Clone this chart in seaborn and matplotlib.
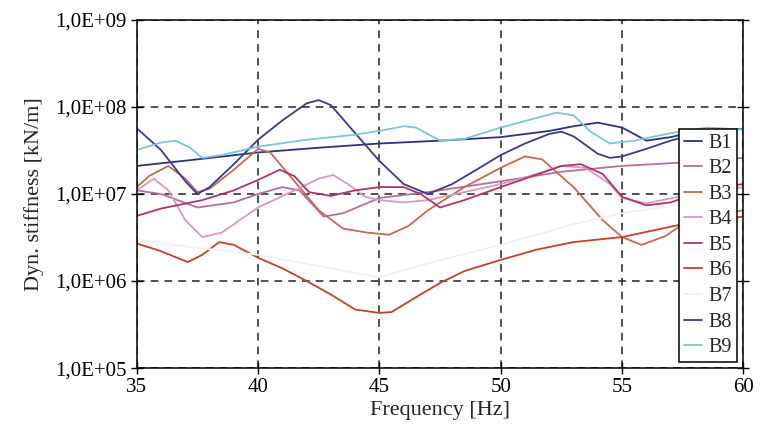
import math
import pandas as pd
import seaborn as sns
import matplotlib.pyplot as plt
from matplotlib.ticker import FixedLocator, FuncFormatter, NullLocator

sns.set_style("ticks")
plt.rcParams["font.family"] = ["Liberation Serif", "DejaVu Serif"]
plt.rcParams["font.size"] = 14

# Data (frequency in Hz, stiffness in kN/m)
f_b1 = [35, 37.5, 40, 42.5, 45, 47.5, 50, 52, 53, 54, 55, 56, 57, 58, 59, 60]
k_b1 = [2.1e7, 2.5e7, 3.0e7, 3.4e7, 3.8e7, 4.1e7, 4.5e7, 5.3e7, 6.0e7, 6.6e7,
        5.8e7, 4.1e7, 4.5e7, 5.2e7, 5.5e7, 5.6e7]

f_b2 = [35, 36, 37.5, 39, 40, 41, 41.7, 42.7, 43.5, 45, 47, 50, 52.5, 55, 57.5, 60]
k_b2 = [1.1e7, 1.0e7, 7.0e6, 8.0e6, 1.0e7, 1.2e7, 1.1e7, 5.5e6, 6.0e6, 9.0e6,
        1.05e7, 1.4e7, 1.8e7, 2.1e7, 2.3e7, 2.6e7]

f_b3 = [35, 35.5, 36.3, 37, 37.5, 38, 39, 40, 40.5, 41.5, 42.5, 43.5, 44.5, 45.4,
        46.2, 47, 48.5, 50, 51, 51.7, 53, 54.2, 55, 55.8, 56.8, 57.5, 58.5, 60]
k_b3 = [1.2e7, 1.6e7, 2.1e7, 1.5e7, 1.05e7, 1.15e7, 1.9e7, 3.3e7, 3.0e7, 1.4e7,
        6.5e6, 4.0e6, 3.6e6, 3.4e6, 4.3e6, 6.5e6, 1.2e7, 2.0e7, 2.7e7, 2.5e7,
        1.2e7, 5.0e6, 3.2e6, 2.6e6, 3.3e6, 4.5e6, 5.5e6, 6.5e6]

f_b4 = [35, 35.7, 36.3, 37, 37.7, 38.5, 40, 41.5, 42.5, 43.1, 43.7, 44.4, 45, 46,
        47, 48.5, 50, 51.5, 52.5, 53.5, 54.5, 55, 56, 57.5, 60]
k_b4 = [1.1e7, 1.5e7, 1.1e7, 5.0e6, 3.2e6, 3.6e6, 7.0e6, 1.1e7, 1.5e7, 1.65e7,
        1.3e7, 9.3e6, 8.5e6, 8.0e6, 8.5e6, 1.05e7, 1.3e7, 1.7e7, 2.1e7, 2.0e7,
        1.3e7, 9.0e6, 7.8e6, 9.5e6, 1.2e7]

f_b5 = [35, 36, 37.7, 39, 40, 40.9, 41.5, 42.1, 43, 44, 45, 46, 46.7, 47.5, 48.5,
        50, 51, 52.5, 53.3, 54.2, 55, 56, 57, 58, 59, 60]
k_b5 = [5.6e6, 6.8e6, 8.5e6, 1.1e7, 1.45e7, 1.9e7, 1.6e7, 1.05e7, 9.5e6, 1.1e7,
        1.2e7, 1.2e7, 1.0e7, 7.0e6, 8.5e6, 1.2e7, 1.5e7, 2.1e7, 2.2e7, 1.7e7,
        9.3e6, 7.4e6, 8.0e6, 1.0e7, 1.2e7, 1.3e7]

f_b6 = [35, 36, 37.1, 37.7, 38.4, 39, 40, 41, 42, 43, 44, 45, 45.5, 46.5, 47.5,
        48.5, 50, 51.5, 53, 55, 57.5, 60]
k_b6 = [2.7e6, 2.2e6, 1.65e6, 2.0e6, 2.8e6, 2.6e6, 1.85e6, 1.4e6, 1.0e6, 7.0e5,
        4.7e5, 4.3e5, 4.4e5, 6.5e5, 9.5e5, 1.3e6, 1.75e6, 2.3e6, 2.8e6, 3.2e6,
        4.5e6, 5.5e6]

f_b7 = [35, 37, 40, 43, 45, 47, 50, 53, 55, 58, 60]
k_b7 = [3.0e6, 2.5e6, 2.0e6, 1.4e6, 1.1e6, 1.6e6, 2.6e6, 4.5e6, 6.0e6, 8.0e6, 9.0e6]

f_b8 = [35, 36, 37, 37.5, 38, 39, 40, 41, 42, 42.5, 43, 44, 45, 46, 47, 48, 49,
        50, 51, 52, 52.5, 53, 54, 54.5, 55, 56, 57, 58, 59, 60]
k_b8 = [5.7e7, 3.2e7, 1.4e7, 1.0e7, 1.2e7, 2.2e7, 4.2e7, 7.0e7, 1.1e8, 1.2e8,
        1.05e8, 5.0e7, 2.4e7, 1.3e7, 1.0e7, 1.3e7, 1.9e7, 2.8e7, 3.8e7, 4.9e7,
        5.2e7, 4.6e7, 2.9e7, 2.6e7, 2.7e7, 3.3e7, 4.1e7, 4.9e7, 5.4e7, 5.6e7]

f_b9 = [35, 36, 36.6, 37.2, 37.7, 38.5, 40, 42, 44, 45, 46, 46.5, 47.5, 48.5, 50,
        51.5, 52.3, 53, 53.7, 54.5, 55.5, 57, 58.5, 60]
k_b9 = [3.2e7, 3.9e7, 4.1e7, 3.4e7, 2.6e7, 2.8e7, 3.5e7, 4.2e7, 4.8e7, 5.3e7,
        6.0e7, 5.8e7, 4.1e7, 4.3e7, 5.8e7, 7.5e7, 8.6e7, 8.0e7, 5.2e7, 3.8e7,
        4.1e7, 5.0e7, 5.8e7, 5.5e7]

names = ["B1", "B2", "B3", "B4", "B5", "B6", "B7", "B8", "B9"]
freqs = [f_b1, f_b2, f_b3, f_b4, f_b5, f_b6, f_b7, f_b8, f_b9]
stiffs = [k_b1, k_b2, k_b3, k_b4, k_b5, k_b6, k_b7, k_b8, k_b9]
colors = ["#2e3080", "#b5709a", "#c8684f", "#d69ac4", "#b0336b",
          "#c4402a", "#f0f0f0", "#3d3990", "#7cc6d8"]

frames = [pd.DataFrame({"freq": f, "stiff": k, "serie": n})
          for n, f, k in zip(names, freqs, stiffs)]
df = pd.concat(frames, ignore_index=True)

fig = plt.figure(figsize=(7.64, 4.33), dpi=100)
ax = fig.add_axes([0.179, 0.150, 0.794, 0.804])

sns.lineplot(data=df, x="freq", y="stiff", hue="serie", hue_order=names,
             palette=dict(zip(names, colors)), estimator=None, linewidth=1.3,
             ax=ax)

ax.set_yscale("log")
ax.set_xlim(35, 60)
ax.set_ylim(1e5, 1e9)
ax.xaxis.set_major_locator(FixedLocator([35, 40, 45, 50, 55, 60]))
ax.yaxis.set_major_locator(FixedLocator([1e5, 1e6, 1e7, 1e8, 1e9]))
ax.yaxis.set_minor_locator(NullLocator())
ax.yaxis.set_major_formatter(FuncFormatter(lambda v, p: "1,0E+%02d" % round(math.log10(v))))
ax.grid(True, which="major", color="#222222", linestyle=(0, (5, 4)), linewidth=1.1)
ax.tick_params(axis="both", direction="inout", length=8, width=1, labelsize=15,
               right=True, colors="black", pad=3)
for s in ax.spines.values():
    s.set_color("black")
    s.set_linewidth(1.1)

ax.set_xlabel("Frequency [Hz]", fontsize=16, labelpad=3)
ax.set_ylabel("Dyn. stiffness [kN/m]", fontsize=16, labelpad=8)

leg = ax.legend(loc="lower right", bbox_to_anchor=(0.99, 0.017), frameon=True,
                fancybox=False, edgecolor="black", fontsize=14.5, handlelength=0.9,
                labelspacing=0.32, borderpad=0.25, handletextpad=0.35,
                borderaxespad=0)
leg.get_frame().set_linewidth(1.1)
leg.get_frame().set_alpha(1)

plt.savefig("out.png", dpi=100)
